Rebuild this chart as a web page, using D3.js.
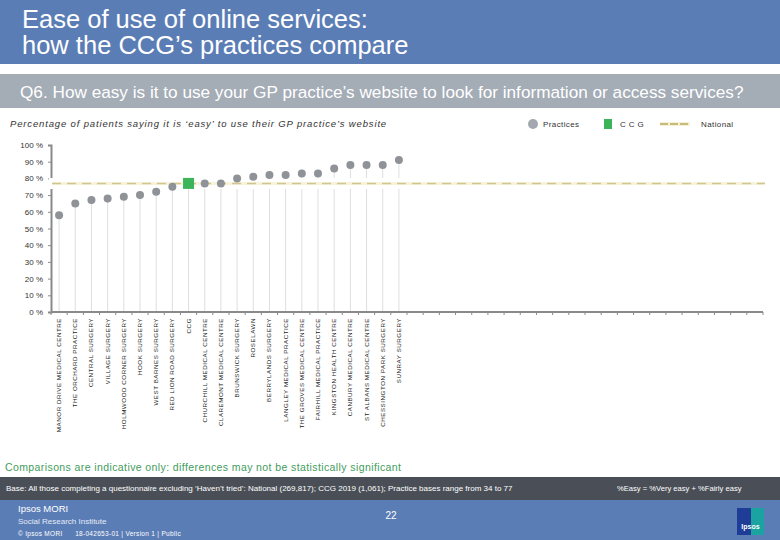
<!DOCTYPE html>
<html>
<head>
<meta charset="utf-8">
<script src="https://cdn.jsdelivr.net/npm/d3@7"></script>
<style>
  body { margin: 0; background: #fff; }
  svg { display: block; font-family: "Liberation Sans", Arial, sans-serif; }
</style>
</head>
<body>
<svg id="chart" width="780" height="540"></svg>
<script>
// Data
const categories = [
  'MANOR DRIVE MEDICAL CENTRE', 'THE ORCHARD PRACTICE', 'CENTRAL SURGERY', 'VILLAGE SURGERY',
  'HOLMWOOD CORNER SURGERY', 'HOOK SURGERY', 'WEST BARNES SURGERY', 'RED LION ROAD SURGERY',
  'CCG', 'CHURCHILL MEDICAL CENTRE', 'CLAREMONT MEDICAL CENTRE', 'BRUNSWICK SURGERY',
  'ROSELAWN', 'BERRYLANDS SURGERY', 'LANGLEY MEDICAL PRACTICE', 'THE GROVES MEDICAL CENTRE',
  'FAIRHILL MEDICAL PRACTICE', 'KINGSTON HEALTH CENTRE', 'CANBURY MEDICAL CENTRE',
  'ST ALBANS MEDICAL CENTRE', 'CHESSINGTON PARK SURGERY', 'SUNRAY SURGERY'
];
const values = [58, 65, 67, 68, 69, 70, 72, 75, 77, 77, 77, 80, 81, 82, 82, 83, 83, 86, 88, 88, 88, 91];
const ccgName = 'CCG';
const nationalValue = 77;
const slotCount = 44; // axis carries empty slots after the practices
const yTicks = [0, 10, 20, 30, 40, 50, 60, 70, 80, 90, 100];

const svg = d3.select('#chart');
const blue = '#5b7db6';

// Header
svg.append('rect').attr('x', 0).attr('y', 0).attr('width', 780).attr('height', 64).attr('fill', blue);
svg.append('text').attr('x', 22).attr('y', 28).attr('fill', '#fff').attr('font-size', 25.5)
  .text('Ease of use of online services:');
svg.append('text').attr('x', 22).attr('y', 54).attr('fill', '#fff').attr('font-size', 25.5)
  .text('how the CCG\u2019s practices compare');

svg.append('rect').attr('x', 0).attr('y', 74).attr('width', 780).attr('height', 34).attr('fill', '#a4acb6');
svg.append('text').attr('x', 20).attr('y', 98).attr('fill', '#fff').attr('font-size', 17.2)
  .text('Q6. How easy is it to use your GP practice\u2019s website to look for information or access services?');

svg.append('text').attr('x', 10).attr('y', 127).attr('fill', '#333').attr('font-size', 9.5)
  .attr('font-style', 'italic').attr('letter-spacing', 0.85)
  .text('Percentage of patients saying it is \u2018easy\u2019 to use their GP practice\u2019s website');

// Legend
const legend = svg.append('g').attr('font-size', 8).attr('fill', '#333').attr('letter-spacing', 0.4);
legend.append('circle').attr('cx', 533).attr('cy', 124).attr('r', 5).attr('fill', '#a3a8b0');
legend.append('text').attr('x', 543).attr('y', 127).text('Practices');
legend.append('rect').attr('x', 604).attr('y', 119).attr('width', 8).attr('height', 10).attr('fill', '#3cb55a');
legend.append('text').attr('x', 620).attr('y', 127).text('C C G');
legend.append('line').attr('x1', 660).attr('x2', 690).attr('y1', 124).attr('y2', 124)
  .attr('stroke', '#f5f1d0').attr('stroke-width', 4);
legend.append('line').attr('x1', 660).attr('x2', 690).attr('y1', 124).attr('y2', 124)
  .attr('stroke', '#c8bb80').attr('stroke-width', 2).attr('stroke-dasharray', '8,2');
legend.append('text').attr('x', 701).attr('y', 127).text('National');

// Scales
const x = d3.scaleBand().domain(d3.range(slotCount)).range([51, 763]);
const y = d3.scaleLinear().domain([0, 100]).range([312, 145]);

const plot = svg.append('g');

// Drop lines
plot.selectAll('.drop').data(values).enter().append('line')
  .attr('x1', (d, i) => x(i) + x.bandwidth() / 2)
  .attr('x2', (d, i) => x(i) + x.bandwidth() / 2)
  .attr('y1', d => y(d)).attr('y2', y(0))
  .attr('stroke', '#dedede').attr('stroke-width', 1);

// Y axis
const yAxis = plot.append('g').attr('transform', 'translate(51,0)')
  .call(d3.axisLeft(y).tickValues(yTicks).tickSize(3).tickFormat(d => d + ' %'));
yAxis.select('.domain').attr('stroke', '#8a8a8a').attr('stroke-width', 2);
yAxis.selectAll('.tick line').attr('stroke', '#8a8a8a');
yAxis.selectAll('.tick text').attr('font-size', 8).attr('fill', '#333')
  .attr('font-family', '"Liberation Sans", Arial, sans-serif').attr('x', -8);

// X axis with slot ticks
const xAxisG = plot.append('g').attr('transform', `translate(0,${y(0)})`);
xAxisG.append('line').attr('x1', 51).attr('x2', 763).attr('y1', 0).attr('y2', 0)
  .attr('stroke', '#8a8a8a').attr('stroke-width', 2);
xAxisG.selectAll('.xt').data(d3.range(slotCount + 1)).enter().append('line')
  .attr('x1', d => d < slotCount ? x(d) : x(slotCount - 1) + x.bandwidth())
  .attr('x2', d => d < slotCount ? x(d) : x(slotCount - 1) + x.bandwidth())
  .attr('y1', 0).attr('y2', 3).attr('stroke', '#8a8a8a');

// Category labels
xAxisG.selectAll('.lbl').data(categories).enter().append('text')
  .attr('transform', (d, i) => `translate(${x(i) + x.bandwidth() / 2 + 2},6) rotate(-90)`)
  .attr('text-anchor', 'end')
  .attr('font-size', 6.2).attr('letter-spacing', 0.55).attr('fill', '#222')
  .text(d => d);

// National line with white halo
plot.append('line').attr('x1', 49).attr('x2', 765).attr('y1', y(nationalValue)).attr('y2', y(nationalValue))
  .attr('stroke', '#fff').attr('stroke-width', 11);
plot.append('line').attr('x1', 52).attr('x2', 765).attr('y1', y(nationalValue)).attr('y2', y(nationalValue))
  .attr('stroke', '#f6f3da').attr('stroke-width', 3);
plot.append('line').attr('x1', 52).attr('x2', 765).attr('y1', y(nationalValue)).attr('y2', y(nationalValue))
  .attr('stroke', '#d2c690').attr('stroke-width', 1.5).attr('stroke-dasharray', '9,6');

// Points
values.forEach((d, i) => {
  const cx = x(i) + x.bandwidth() / 2;
  if (categories[i] === ccgName) {
    plot.append('rect').attr('x', cx - 5.5).attr('y', y(d) - 5.5).attr('width', 11).attr('height', 11)
      .attr('fill', '#3cb55a');
  } else {
    plot.append('circle').attr('cx', cx).attr('cy', y(d)).attr('r', 4).attr('fill', '#8f9398');
  }
});

// Footer
svg.append('text').attr('x', 5).attr('y', 471).attr('fill', '#3f9c5c').attr('font-size', 10.5)
  .attr('letter-spacing', 0.4)
  .text('Comparisons are indicative only: differences may not be statistically significant');
svg.append('rect').attr('x', 0).attr('y', 477).attr('width', 780).attr('height', 23).attr('fill', '#4a4f57');
svg.append('text').attr('x', 6).attr('y', 491).attr('fill', '#fff').attr('font-size', 8)
  .text('Base: All those completing a questionnaire excluding \u2018Haven\u2019t tried\u2019: National (269,817); CCG 2019 (1,061); Practice bases range from 34 to 77');
svg.append('text').attr('x', 617).attr('y', 491).attr('fill', '#fff').attr('font-size', 7.6)
  .text('%Easy = %Very easy + %Fairly easy');

svg.append('rect').attr('x', 0).attr('y', 500).attr('width', 780).attr('height', 40).attr('fill', blue);
svg.append('text').attr('x', 18).attr('y', 512).attr('fill', '#fff').attr('font-size', 9.5).text('Ipsos MORI');
svg.append('text').attr('x', 18).attr('y', 524).attr('fill', '#e4eaf4').attr('font-size', 8)
  .attr('font-weight', 300).text('Social Research Institute');
svg.append('text').attr('x', 18).attr('y', 536).attr('fill', '#fff').attr('font-size', 6.5)
  .attr('letter-spacing', 0.3).attr('xml:space', 'preserve')
  .text('\u00a9 Ipsos MORI      18-042653-01 | Version 1 | Public');
svg.append('text').attr('x', 391).attr('y', 519).attr('fill', '#fff').attr('font-size', 10)
  .attr('text-anchor', 'middle').text('22');

// Logo
svg.append('rect').attr('x', 737).attr('y', 508).attr('width', 27).attr('height', 27).attr('fill', '#1f3d96');
svg.append('rect').attr('x', 751).attr('y', 508).attr('width', 13).attr('height', 27).attr('fill', '#1aa3a0');
svg.append('text').attr('x', 750.5).attr('y', 529).attr('fill', '#fff').attr('font-size', 7)
  .attr('font-weight', 'bold').attr('text-anchor', 'middle').text('Ipsos');
</script>
</body>
</html>
